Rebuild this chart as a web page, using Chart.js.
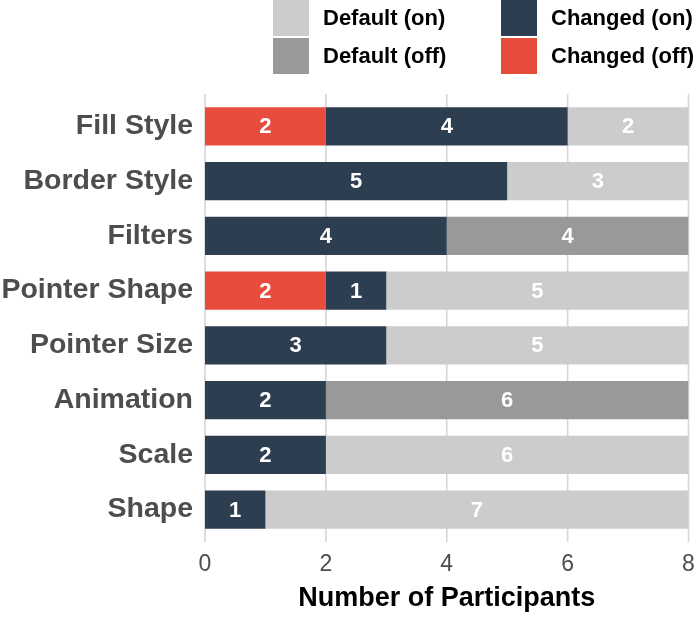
<!DOCTYPE html>
<html>
<head>
<meta charset="utf-8">
<script src="https://cdn.jsdelivr.net/npm/chart.js@4.4.1/dist/chart.umd.min.js"></script>
<style>
    html, body { margin: 0; padding: 0; background: #fff; }
    #wrap { position: relative; width: 697px; height: 618px; }
    #ParticipantsChart { display: block; }
    #legend { position: absolute; left: 0; top: 0; font: bold 22px "Liberation Sans", Arial, sans-serif; color: #000; }
    .item { position: absolute; display: flex; align-items: center; height: 36px; white-space: nowrap; }
    .box { width: 36px; height: 36px; margin-right: 14px; }
</style>
</head>
<body>
<div id="wrap">
    <canvas id="ParticipantsChart" width="697" height="618"></canvas>
    <div id="legend"></div>
</div>
<script>
const categories = ['Fill Style', 'Border Style', 'Filters', 'Pointer Shape', 'Pointer Size', 'Animation', 'Scale', 'Shape'];
const changedOff = [2, 0, 0, 2, 0, 0, 0, 0];
const changedOn  = [4, 5, 4, 1, 3, 2, 2, 1];
const defaultOff = [0, 0, 4, 0, 0, 6, 0, 0];
const defaultOn  = [2, 3, 0, 5, 5, 0, 6, 7];
const xTicks = [0, 2, 4, 6, 8];

const colors = {
    changedOff: '#e74c3c',
    changedOn: '#2c3e50',
    defaultOff: '#999999',
    defaultOn: '#cccccc'
};

// legend is a 2x2 grid, filled column by column
const legendItems = [
    { label: 'Default (on)', color: colors.defaultOn, left: 273, top: 0 },
    { label: 'Default (off)', color: colors.defaultOff, left: 273, top: 38 },
    { label: 'Changed (on)', color: colors.changedOn, left: 501, top: 0 },
    { label: 'Changed (off)', color: colors.changedOff, left: 501, top: 38 }
];
const legendEl = document.getElementById('legend');
legendItems.forEach(item => {
    const div = document.createElement('div');
    div.className = 'item';
    div.style.left = item.left + 'px';
    div.style.top = item.top + 'px';
    div.innerHTML = `<span class="box" style="background:${item.color}"></span><span>${item.label}</span>`;
    legendEl.appendChild(div);
});

const gridLines = {
    id: 'gridLines',
    beforeDatasetsDraw(chart) {
        const { ctx, chartArea, scales } = chart;
        ctx.save();
        ctx.strokeStyle = '#d6d6d6';
        ctx.lineWidth = 1.6;
        xTicks.forEach(v => {
            const px = scales.x.getPixelForValue(v);
            ctx.beginPath();
            ctx.moveTo(px, chartArea.top - 5);
            ctx.lineTo(px, chartArea.bottom + 5);
            ctx.stroke();
        });
        ctx.restore();
    }
};

const valueLabels = {
    id: 'valueLabels',
    afterDatasetsDraw(chart) {
        const { ctx } = chart;
        ctx.save();
        ctx.fillStyle = '#ffffff';
        ctx.font = 'bold 22px "Liberation Sans", Arial, sans-serif';
        ctx.textAlign = 'center';
        ctx.textBaseline = 'middle';
        chart.data.datasets.forEach((ds, i) => {
            const meta = chart.getDatasetMeta(i);
            meta.data.forEach((bar, j) => {
                const value = ds.data[j];
                if (!value) return;
                const { x, base, y } = bar.getProps(['x', 'base', 'y'], true);
                ctx.fillText(String(value), (x + base) / 2, y + 1);
            });
        });
        ctx.restore();
    }
};

const ctx = document.getElementById('ParticipantsChart').getContext('2d');

new Chart(ctx, {
    type: 'bar',
    data: {
        labels: categories,
        datasets: [
            { label: 'Changed (off)', data: changedOff, backgroundColor: colors.changedOff },
            { label: 'Changed (on)', data: changedOn, backgroundColor: colors.changedOn },
            { label: 'Default (off)', data: defaultOff, backgroundColor: colors.defaultOff },
            { label: 'Default (on)', data: defaultOn, backgroundColor: colors.defaultOn }
        ]
    },
    options: {
        indexAxis: 'y',
        responsive: false,
        animation: false,
        devicePixelRatio: 1,
        categoryPercentage: 1,
        barPercentage: 0.7,
        layout: {
            padding: { top: 99, right: 8.5, left: 0, bottom: 0 }
        },
        scales: {
            x: {
                stacked: true,
                min: 0,
                max: 8,
                afterBuildTicks: scale => { scale.ticks = xTicks.map(v => ({ value: v })); },
                afterFit: scale => {
                    scale.height = 81;
                    scale.paddingRight = 0;
                    scale.paddingLeft = 0;
                },
                grid: { display: false, drawTicks: false },
                border: { display: false },
                ticks: {
                    padding: 14,
                    color: '#4d4d4d',
                    font: { family: '"Liberation Sans", Arial, sans-serif', size: 23 }
                },
                title: {
                    display: true,
                    text: 'Number of Participants',
                    color: '#000000',
                    font: { family: '"Liberation Sans", Arial, sans-serif', size: 27, weight: 'bold' },
                    padding: { top: 4, bottom: 3 }
                }
            },
            y: {
                stacked: true,
                afterFit: scale => { scale.width = 205; },
                grid: { display: false, drawTicks: false },
                border: { display: false },
                ticks: {
                    padding: 12,
                    color: '#4d4d4d',
                    font: { family: '"Liberation Sans", Arial, sans-serif', size: 28.5, weight: 'bold' }
                }
            }
        },
        plugins: {
            legend: { display: false },
            tooltip: { enabled: false }
        }
    },
    plugins: [gridLines, valueLabels]
});
</script>
</body>
</html>
